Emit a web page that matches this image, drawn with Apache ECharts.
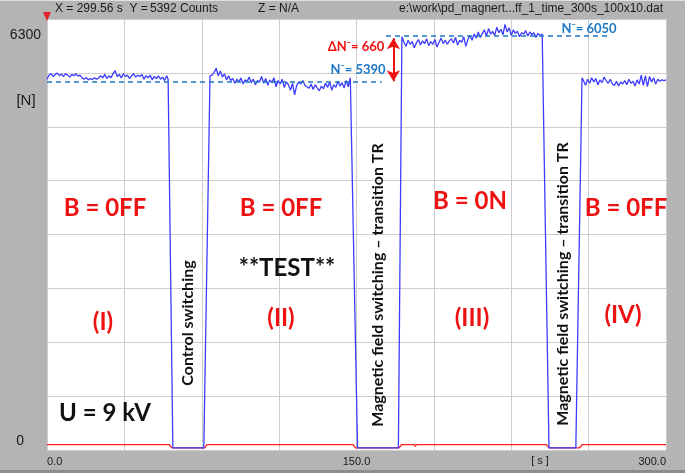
<!DOCTYPE html>
<html>
<head>
<meta charset="utf-8">
<script src="https://cdn.jsdelivr.net/npm/echarts@6/dist/echarts.min.js"></script>
<style>
html, body { margin: 0; padding: 0; background: #b4b4b4; }
#main { width: 685px; height: 473px; }
</style>
</head>
<body>
<div id="main"></div>
<script>
// blue signal (counts), one sample per second inside each plateau
const segA = [5420, 5480, 5500, 5460, 5490, 5510, 5470, 5495, 5460, 5500, 5480, 5450, 5490, 5470, 5500, 5465, 5480, 5440,
  5420, 5445, 5410, 5430, 5415, 5440, 5420, 5435, 5470, 5440, 5490, 5430,
  5470, 5440, 5500, 5545, 5460,
  5490, 5440, 5500, 5460, 5480, 5430, 5470, 5500, 5450, 5480, 5460, 5490, 5420, 5470, 5440, 5480, 5410, 5460, 5430, 5470, 5420, 5450, 5400, 5470];
const segC = [5480, 5520, 5580, 5470, 5540, 5450, 5500, 5410, 5470, 5400,
  5430, 5360, 5420, 5380, 5440, 5350, 5410, 5390, 5450, 5370,
  5420, 5340, 5400, 5380, 5460, 5360, 5430, 5330, 5410, 5370,
  5440, 5310, 5400, 5350, 5420, 5300, 5380, 5340, 5260, 5360,
  5190, 5330, 5380, 5350, 5400, 5330, 5310, 5290, 5350, 5270,
  5340, 5290, 5250, 5320, 5280, 5360, 5300, 5380, 5260, 5340,
  5300, 5390, 5320, 5370, 5290, 5400, 5310, 5440];
const segE = [5960, 5900, 5990, 5930, 5970, 5880, 5950, 6000, 5920, 5980,
  5940, 6010, 5910, 5970, 5930, 6000, 5890, 5960, 6020, 5940,
  5990, 5930, 5980, 6010, 5950, 6030, 5920, 5990, 5960, 6040,
  5900, 6000, 6060, 5990, 6080, 6020, 6110, 6030, 6090, 6140,
  6050, 6160, 6080, 6120, 6060, 6180, 6100, 6150, 6070, 6222,
  6110, 6170, 6060, 6140, 6090, 6120, 6040, 6100, 6080, 6130,
  6050, 6110, 6070, 6100, 6030, 6090, 6060, 6080];
const segF = [5400, 5330, 5420, 5360, 5440, 5380, 5430, 5340, 5410, 5370,
  5450, 5400, 5360, 5420, 5350, 5330, 5390, 5320, 5380, 5350,
  5400, 5340, 5420, 5360, 5390, 5320, 5410, 5350, 5480, 5330,
  5470, 5310, 5460, 5380, 5440, 5350, 5420, 5390, 5410, 5400, 5410];
const segStart = [0, 80, 173, 260];

// switching edges [time, counts]
const edgeA = [[58.7, 5420], [61, 30], [76, 30], [79, 5470]];
const edgeC = [[147.8, 5430], [150.5, 30], [170.3, 30], [172, 6040]];
const edgeE = [[240.4, 6080], [243.3, 30], [256.3, 30], [259.3, 5440]];

// red signal
const redLine = [[0, 80], [59.3, 80], [60.5, 30], [76.5, 30], [77.5, 80], [148.3, 80], [149.5, 30], [170.5, 30],
  [172, 80], [178, 80], [178.5, 50], [179, 80], [181, 80], [181.5, 60], [182, 80], [242, 80], [243.3, 30],
  [258, 30], [259.5, 80], [300, 80]];

const nLow = 5390, nHigh = 6050;
const xLabels = [0, 150, 300];

function seg(start, vals) {
  return vals.map((v, i) => [start + i, v]);
}
const blueData = [].concat(seg(segStart[0], segA), edgeA, seg(segStart[1], segC), edgeC,
  seg(segStart[2], segE), edgeE, seg(segStart[3], segF));

const bold = 'Lato';
function txt(x, y, text, color, size, rot) {
  return {
    type: 'text', x: x, y: y, rotation: rot || 0, z: 100,
    style: {
      text: text, fill: color, fontSize: size, fontWeight: 'bold', fontFamily: bold,
      align: 'center', verticalAlign: 'middle', textAlign: 'center', textVerticalAlign: 'middle'
    }
  };
}
function small(x, y, text, size, align) {
  return {
    type: 'text', x: x, y: y, z: 100,
    style: {
      text: text, fill: '#1a1a1a', fontSize: size, fontFamily: 'Liberation Sans',
      align: align || 'left', verticalAlign: 'middle', textAlign: align || 'left', textVerticalAlign: 'middle'
    }
  };
}

const chart = echarts.init(document.getElementById('main'));
const option = {
  backgroundColor: '#b4b4b4',
  animation: false,
  grid: {
    left: 47, right: 19, top: 19, bottom: 23,
    show: true, backgroundColor: '#ffffff', borderWidth: 0
  },
  xAxis: {
    type: 'value', min: 0, max: 300, interval: 37.5,
    axisLine: { show: false }, axisTick: { show: false },
    splitLine: { show: true, lineStyle: { color: '#cdcdcd', width: 1 } },
    axisLabel: {
      margin: 6, fontSize: 11, color: '#1a1a1a', fontFamily: 'Liberation Sans',
      alignMinLabel: 'left', alignMaxLabel: 'right',
      formatter: v => xLabels.indexOf(v) >= 0 ? v.toFixed(1) : ''
    }
  },
  yAxis: {
    type: 'value', min: 0, max: 6300, interval: 787.5,
    axisLine: { show: false }, axisTick: { show: false },
    splitLine: { show: true, lineStyle: { color: '#cdcdcd', width: 1 } },
    axisLabel: {
      margin: 6, color: '#1a1a1a', fontFamily: 'Liberation Sans', fontSize: 14,
      formatter: v => v === 6300 ? '{t|6300}' : (v === 0 ? '{b|0}' : ''),
      rich: {
        t: { fontSize: 14, padding: [32, 0, 0, 0], color: '#1a1a1a' },
        b: { fontSize: 14, padding: [0, 17, 18, 0], color: '#1a1a1a' }
      }
    }
  },
  series: [
    {
      type: 'line', data: redLine, showSymbol: false, z: 2,
      lineStyle: { color: '#ff2020', width: 1.3 }
    },
    {
      type: 'line', data: blueData, showSymbol: false, z: 3,
      lineStyle: { color: '#3c3cff', width: 1.3 },
      markLine: {
        silent: true, symbol: 'none', animation: false,
        lineStyle: { color: '#1f78c4', type: [5, 4], width: 1.5 },
        label: { show: false },
        data: [
          [{ coord: [0, nLow] }, { coord: [162.2, nLow] }],
          [{ coord: [164.3, nHigh] }, { coord: [272, nHigh] }]
        ]
      }
    },
    {
      type: 'line', data: [], z: 4,
      markLine: {
        silent: true, symbol: ['arrow', 'arrow'], symbolSize: [10, 11], animation: false,
        lineStyle: { color: '#ee1111', type: 'solid', width: 2 },
        label: { show: false },
        data: [[{ coord: [167.9, nLow] }, { coord: [167.9, 6020] }]]
      }
    }
  ],
  graphic: [
    { type: 'rect', shape: { x: 0, y: 470, width: 685, height: 3 }, style: { fill: '#8c8c8c' } },
    { type: 'rect', shape: { x: 0, y: 0, width: 685, height: 1 }, style: { fill: '#e0e0e0' } },
    { type: 'polygon', shape: { points: [[43, 12], [51, 12], [47, 21]] }, style: { fill: '#e8202a' }, z: 100 },
    small(55, 9, 'X = 299.56 s  Y =', 12),
    small(150, 9, '5392 Counts', 12),
    small(258, 9, 'Z = N/A', 12),
    small(663, 9, 'e:\\work\\pd_magnert...ff_1_time_300s_100x10.dat', 12, 'right'),
    small(26, 101, '[N]', 15, 'center'),
    small(540, 461, '[ s ]', 11, 'center'),
    txt(105, 208, 'B = 0FF', '#ee1111', 24),
    txt(281, 208, 'B = 0FF', '#ee1111', 24),
    txt(470, 201, 'B = 0N', '#ee1111', 24),
    txt(626, 208, 'B = 0FF', '#ee1111', 24),
    txt(103, 322, '(I)', '#ee1111', 24),
    txt(281, 318, '(II)', '#ee1111', 24),
    txt(472, 318, '(III)', '#ee1111', 24),
    txt(623, 315, '(IV)', '#ee1111', 24),
    txt(287, 268, '**TEST**', '#111111', 24),
    txt(105, 413, 'U = 9 kV', '#111111', 24),
    txt(188, 323, 'Control switching', '#111111', 16, Math.PI / 2),
    txt(378, 285, 'Magnetic field switching \u2013 transition TR', '#111111', 16, Math.PI / 2),
    txt(563, 284, 'Magnetic field switching \u2013 transition TR', '#111111', 16, Math.PI / 2),
    txt(356, 47, '\u0394N\u207B= 660', '#ee1111', 13),
    txt(358, 70, 'N\u207B= 5390', '#1f78c4', 13),
    txt(589, 29, 'N\u207B= 6050', '#1f78c4', 13)
  ]
};
chart.setOption(option);
</script>
</body>
</html>
